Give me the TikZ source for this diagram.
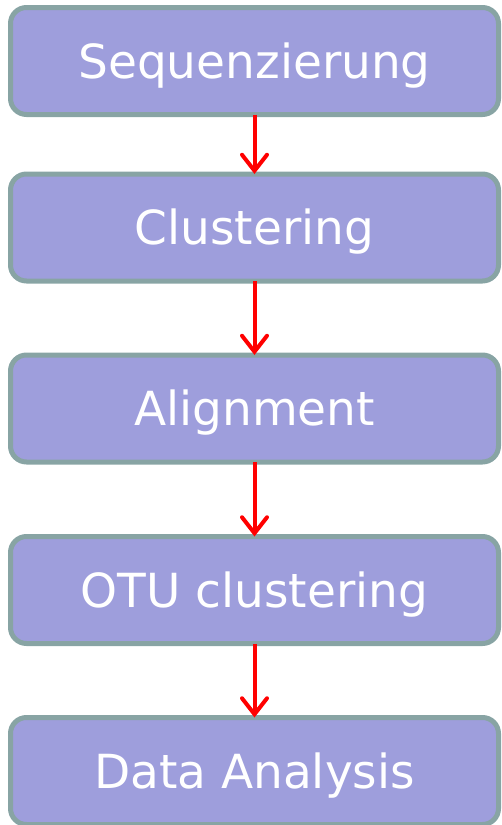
\documentclass[tikz,border=0pt]{standalone}
\usepackage{fontspec}
\setmainfont{DejaVu Sans}
\usepackage{xcolor}
\usepackage{tikz}
\usetikzlibrary{arrows.meta, positioning}

\definecolor{boxfill}{RGB}{158,158,220}
\definecolor{boxline}{RGB}{136,164,164}
\definecolor{flowred}{RGB}{255,0,0}

\begin{document}
\begin{tikzpicture}[
    x=1pt, y=1pt,
    stage/.style={draw=boxline, fill=boxfill, line width=5pt, rounded corners=16pt,
      minimum width=488pt, minimum height=107pt, outer sep=0pt, align=center,
      text=white, font=\fontsize{47}{56}\selectfont, text height=34pt, text depth=0pt},
    flow/.style={draw=flowred, line width=4pt, -{Straight Barb[length=16pt, width=25pt, line cap=round]}}
]
    \useasboundingbox (0,0) rectangle (501,-825);
    \node[stage] (seq) at (254.5,-61) {Sequenzierung};
    \node[stage] (clu) at (254.5,-227.5) {Clustering};
    \node[stage] (ali) at (254.5,-408.5) {Alignment};
    \node[stage] (otu) at (254.5,-590) {OTU clustering};
    \node[stage] (dat) at (254.5,-771) {Data Analysis};

    \draw[flow] (seq) -- (clu);
    \draw[flow] (clu) -- (ali);
    \draw[flow] (ali) -- (otu);
    \draw[flow] (otu) -- (dat);
\end{tikzpicture}
\end{document}
